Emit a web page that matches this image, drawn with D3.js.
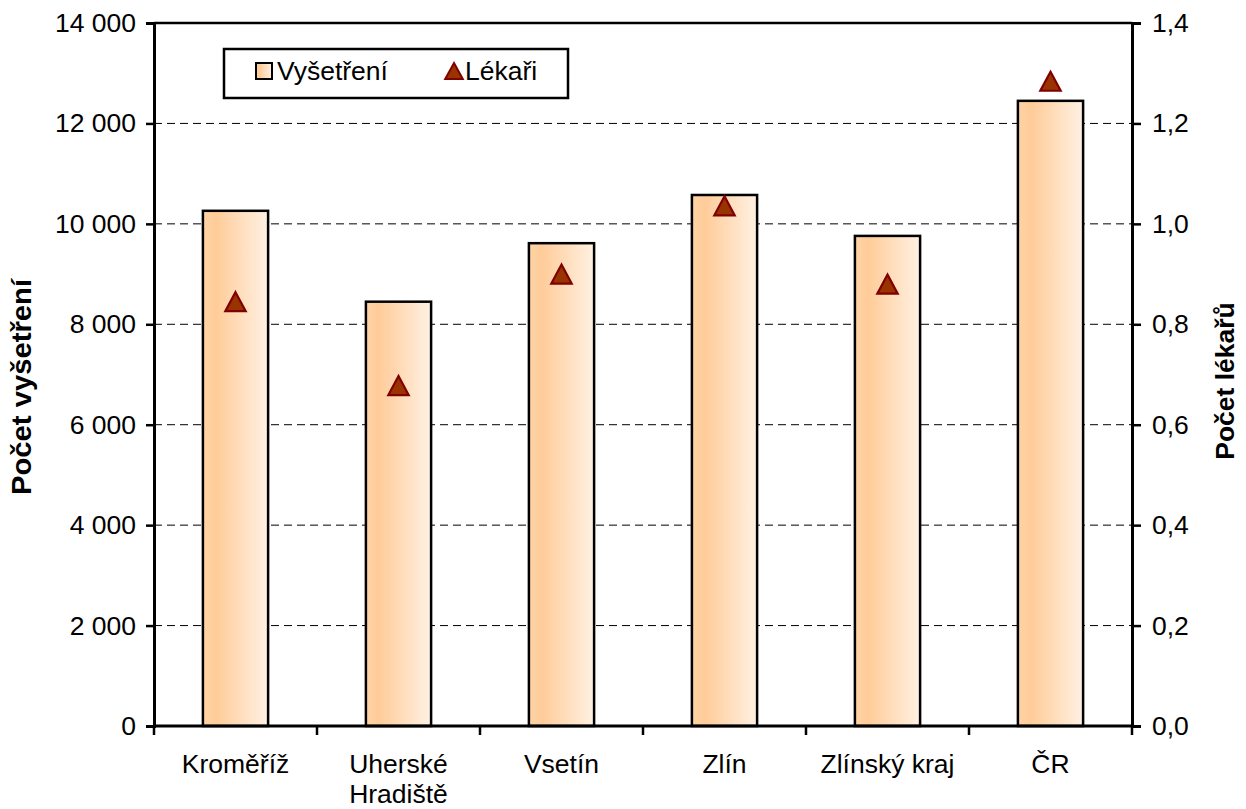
<!DOCTYPE html>
<html><head><meta charset="utf-8">
<script src="https://cdn.jsdelivr.net/npm/d3@7"></script>
<style>body{margin:0;background:#fff}svg{display:block}text{font-family:Arial,"Liberation Sans",sans-serif;fill:#000}</style>
</head><body>
<svg id="c" width="1246" height="809"></svg>
<script>
const categories = ["Kroměříž", "Uherské Hradiště", "Vsetín", "Zlín", "Zlínský kraj", "ČR"];
const vysetreni = [10260, 8450, 9615, 10575, 9760, 12450];
const lekari = [0.847, 0.680, 0.902, 1.038, 0.882, 1.286];
const leftTicks = [0, 2000, 4000, 6000, 8000, 10000, 12000, 14000];
const rightTicks = [0, 0.2, 0.4, 0.6, 0.8, 1.0, 1.2, 1.4];
const seriesNames = ["Vyšetření", "Lékaři"];
const axisTitles = ["Počet vyšetření", "Počet lékařů"];

const FS = "26.5px";
const svg = d3.select("#c");
const L = 154, R = 1132, T = 23, B = 726;
const x = d3.scaleBand().domain(categories).range([L, R]).paddingInner(0.6).paddingOuter(0.3);
const xb = d3.scaleBand().domain(categories).range([L, R]);
const yL = d3.scaleLinear().domain([0, 14000]).range([B, T]);
const yR = d3.scaleLinear().domain([0, 1.4]).range([B, T]);

const defs = svg.append("defs");
const g = defs.append("linearGradient").attr("id", "bg").attr("x1", "0").attr("x2", "1").attr("y1", "0").attr("y2", "0");
g.append("stop").attr("offset", "0%").attr("stop-color", "#FFD3A6");
g.append("stop").attr("offset", "20%").attr("stop-color", "#FFCC99");
g.append("stop").attr("offset", "100%").attr("stop-color", "#FFF1E3");

const fmt = d => d3.format(",")(d).replace(/,/g, " ");
const fmtR = d => d.toFixed(1).replace(".", ",");

// gridlines
svg.append("g").selectAll("line").data(leftTicks.filter(d => d > 0 && d < 14000)).join("line")
  .attr("x1", L).attr("x2", R).attr("y1", d => yL(d)).attr("y2", d => yL(d))
  .attr("stroke", "#000").attr("stroke-width", 1).attr("stroke-dasharray", "8,5");
svg.append("line").attr("x1", L).attr("x2", R).attr("y1", yL(14000)).attr("y2", yL(14000))
  .attr("stroke", "#000").attr("stroke-width", 2.5);

// bars
svg.append("g").selectAll("rect").data(categories).join("rect")
  .attr("x", d => x(d)).attr("width", x.bandwidth())
  .attr("y", (d, i) => yL(vysetreni[i])).attr("height", (d, i) => B - yL(vysetreni[i]))
  .attr("fill", "url(#bg)").attr("stroke", "#000").attr("stroke-width", 2.5);

// axes
const axL = svg.append("g").attr("transform", `translate(${L},0)`)
  .call(d3.axisLeft(yL).tickValues(leftTicks).tickFormat(fmt).tickSize(8).tickPadding(10));
const axR = svg.append("g").attr("transform", `translate(${R},0)`)
  .call(d3.axisRight(yR).tickValues(rightTicks).tickFormat(fmtR).tickSize(9).tickPadding(11));
const axB = svg.append("g").attr("transform", `translate(0,${B})`)
  .call(d3.axisBottom(xb).tickSize(9).tickFormat(""));
[axL, axR, axB].forEach(a => {
  a.select(".domain").attr("stroke", "#000").attr("stroke-width", 3);
  a.selectAll(".tick line").attr("stroke", "#000").attr("stroke-width", 2.5);
  a.selectAll("text").style("font-size", FS).attr("fill", "#000");
});
axB.select(".domain").attr("d", `M${L},0H${R}`);
axB.append("line").attr("x1", L).attr("x2", L).attr("y1", 0).attr("y2", 9).attr("stroke", "#000").attr("stroke-width", 2.5);
axB.selectAll(".tick line").attr("transform", "translate(" + (xb.bandwidth() / 2) + ",0)");

// category labels
const lab = svg.append("g").selectAll("text").data(categories).join("text")
  .attr("x", d => xb(d) + xb.bandwidth() / 2).attr("y", 773)
  .attr("text-anchor", "middle").style("font-size", FS);
lab.each(function(d) {
  const parts = d === "Uherské Hradiště" ? ["Uherské", "Hradiště"] : [d];
  d3.select(this).selectAll("tspan").data(parts).join("tspan")
    .attr("x", xb(d) + xb.bandwidth() / 2).attr("dy", (p, i) => i ? 30 : 0).text(p => p);
});

// triangles
const triPath = "M0,-9.5L10.2,9.5L-10.2,9.5Z";
svg.append("g").selectAll("path").data(categories).join("path")
  .attr("d", triPath)
  .attr("transform", (d, i) => `translate(${xb(d) + xb.bandwidth() / 2},${yR(lekari[i]) + 1})`)
  .attr("fill", "#993300").attr("stroke", "#800000").attr("stroke-width", 2.2);

// axis titles
svg.append("text").attr("transform", "translate(31,387) rotate(-90)").attr("text-anchor", "middle")
  .attr("textLength", 216).attr("lengthAdjust", "spacingAndGlyphs")
  .style("font-size", "27.5px").style("font-weight", "bold").text(axisTitles[0]);
svg.append("text").attr("transform", "translate(1234,381) rotate(-90)").attr("text-anchor", "middle")
  .style("font-size", FS).style("font-weight", "bold").text(axisTitles[1]);

// legend
const lg = svg.append("g");
lg.append("rect").attr("x", 224).attr("y", 49).attr("width", 344).attr("height", 49)
  .attr("fill", "#fff").attr("stroke", "#000").attr("stroke-width", 2.5);
lg.append("rect").attr("x", 256).attr("y", 63).attr("width", 16).attr("height", 16)
  .attr("fill", "url(#bg)").attr("stroke", "#000").attr("stroke-width", 2);
lg.append("text").attr("x", 277).attr("y", 80).style("font-size", FS).text(seriesNames[0]);
lg.append("path").attr("d", "M0,-8L8.8,8L-8.8,8Z")
  .attr("transform", "translate(454,71)").attr("fill", "#993300").attr("stroke", "#800000").attr("stroke-width", 2);
lg.append("text").attr("x", 465).attr("y", 80).style("font-size", FS).text(seriesNames[1]);
</script>
</body></html>
